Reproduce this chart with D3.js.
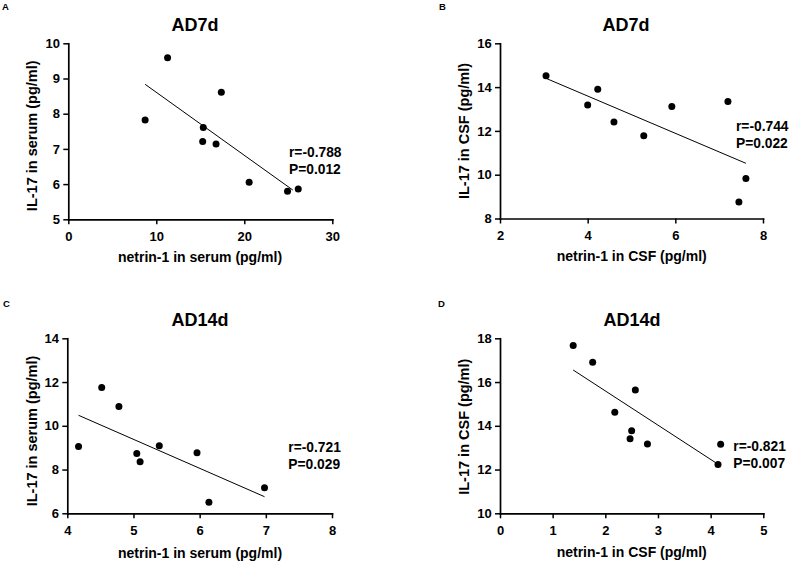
<!DOCTYPE html>
<html>
<head>
<meta charset="utf-8">
<script src="https://cdn.jsdelivr.net/npm/d3@7"></script>
<style>
  html, body { margin: 0; padding: 0; background: #fff; }
  svg text { font-family: "Liberation Sans", Arial, Helvetica, sans-serif; font-weight: bold; fill: #000; }
</style>
</head>
<body>
<svg id="chart" width="795" height="563"></svg>
<script>
// ---------- DATA ----------
const panelLetters = ["A", "B", "C", "D"];
const panelTitles = ["AD7d", "AD7d", "AD14d", "AD14d"];
const xTitles = ["netrin-1 in serum (pg/ml)", "netrin-1 in CSF (pg/ml)", "netrin-1 in serum (pg/ml)", "netrin-1 in CSF (pg/ml)"];
const yTitles = ["IL-17 in serum (pg/ml)", "IL-17 in CSF (pg/ml)", "IL-17 in serum (pg/ml)", "IL-17 in CSF (pg/ml)"];

const xTicksA = [0, 10, 20, 30];
const yTicksA = [5, 6, 7, 8, 9, 10];
const xTicksB = [2, 4, 6, 8];
const yTicksB = [8, 10, 12, 14, 16];
const xTicksC = [4, 5, 6, 7, 8];
const yTicksC = [6, 8, 10, 12, 14];
const xTicksD = [0, 1, 2, 3, 4, 5];
const yTicksD = [10, 12, 14, 16, 18];

// Panel A: AD7d serum
const netrinA = [8.73, 11.28, 17.39, 15.34, 15.27, 16.79, 20.55, 24.91, 26.13];
const il17A   = [7.82, 9.59, 8.61, 7.61, 7.21, 7.14, 6.05, 5.80, 5.86];
const fitXA = [8.73, 25.52];
const fitYA = [8.835, 5.83];

// Panel B: AD7d CSF
const netrinB = [3.05, 4.00, 4.23, 4.60, 5.28, 5.92, 7.20, 7.61, 7.45];
const il17B   = [14.52, 13.18, 13.90, 12.41, 11.78, 13.11, 13.34, 9.83, 8.75];
const fitXB = [3.05, 7.61];
const fitYB = [14.40, 10.52];

// Panel C: AD14d serum
const netrinC = [4.17, 4.52, 4.78, 5.05, 5.10, 5.39, 5.96, 6.14, 6.98];
const il17C   = [9.05, 11.75, 10.88, 8.73, 8.36, 9.09, 8.77, 6.50, 7.17];
const fitXC = [4.17, 6.98];
const fitYC = [10.48, 6.76];

// Panel D: AD14d CSF
const netrinD = [1.39, 1.76, 2.57, 2.18, 2.50, 2.47, 2.80, 4.19, 4.14];
const il17D   = [17.67, 16.91, 15.64, 14.62, 13.77, 13.41, 13.17, 13.16, 12.23];
const fitXD = [1.39, 4.13];
const fitYD = [16.55, 12.26];

const rValues = ["r=-0.788", "r=-0.744", "r=-0.721", "r=-0.821"];
const pValues = ["P=0.012", "P=0.022", "P=0.029", "P=0.007"];

// ---------- LAYOUT ----------
const panels = [
  { xs: netrinA, ys: il17A, fx: fitXA, fy: fitYA, xt: xTicksA, yt: yTicksA,
    box: { l: 68.3, r: 332.3, t: 43.3, b: 219.3 },
    letter: [2, 10], title: [195, 30.7], xTitle: [200, 262], yTitle: [31.7, 135.8], stat: [289, 156.7] },
  { xs: netrinB, ys: il17B, fx: fitXB, fy: fitYB, xt: xTicksB, yt: yTicksB,
    box: { l: 500, r: 763, t: 43.3, b: 218.5 },
    letter: [439, 10], title: [626, 30.7], xTitle: [631.7, 260.5], yTitle: [463.5, 131], stat: [736, 130.5] },
  { xs: netrinC, ys: il17C, fx: fitXC, fy: fitYC, xt: xTicksC, yt: yTicksC,
    box: { l: 67.3, r: 332, t: 338.3, b: 513.3 },
    letter: [3, 306.7], title: [200, 326], xTitle: [200, 557.5], yTitle: [31.7, 431], stat: [288.3, 451.5] },
  { xs: netrinD, ys: il17D, fx: fitXD, fy: fitYD, xt: xTicksD, yt: yTicksD,
    box: { l: 500, r: 763.3, t: 338.3, b: 513.3 },
    letter: [438, 307], title: [632, 326], xTitle: [631.7, 557], yTitle: [463.5, 426.7], stat: [733.3, 451] }
];

const svg = d3.select("#chart");

panels.forEach((p, i) => {
  const g = svg.append("g");
  const x = d3.scaleLinear()
    .domain(d3.extent(p.xt))
    .range([p.box.l, p.box.r]);
  const y = d3.scaleLinear()
    .domain(d3.extent(p.yt))
    .range([p.box.b, p.box.t]);

  // axes
  const xAxis = g.append("g")
    .attr("transform", `translate(0,${p.box.b})`)
    .call(d3.axisBottom(x).tickValues(p.xt).tickFormat(d3.format("d"))
      .tickSizeInner(5).tickSizeOuter(0).tickPadding(7));
  const yAxis = g.append("g")
    .attr("transform", `translate(${p.box.l},0)`)
    .call(d3.axisLeft(y).tickValues(p.yt).tickFormat(d3.format("d"))
      .tickSizeInner(5).tickSizeOuter(0).tickPadding(3.3));

  [xAxis, yAxis].forEach(a => {
    a.attr("font-family", null).attr("font-size", null);
    a.select(".domain").attr("stroke", "#000").attr("stroke-width", 1.7).attr("stroke-linecap", "square");
    a.selectAll(".tick line").attr("stroke", "#000").attr("stroke-width", 1.5);
    a.selectAll(".tick text").style("font-size", "13px");
  });

  // fit line
  g.append("line")
    .attr("x1", x(p.fx[0])).attr("y1", y(p.fy[0]))
    .attr("x2", x(p.fx[1])).attr("y2", y(p.fy[1]))
    .attr("stroke", "#000").attr("stroke-width", 1);

  // points
  g.selectAll("circle.pt")
    .data(p.xs.map((v, k) => [v, p.ys[k]]))
    .join("circle")
    .attr("class", "pt")
    .attr("cx", d => x(d[0]))
    .attr("cy", d => y(d[1]))
    .attr("r", 3.5)
    .attr("fill", "#000");

  // texts
  g.append("text")
    .attr("x", p.letter[0]).attr("y", p.letter[1])
    .style("font-size", "9.5px")
    .text(panelLetters[i]);

  g.append("text")
    .attr("x", p.title[0]).attr("y", p.title[1])
    .attr("text-anchor", "middle")
    .style("font-size", "18px")
    .text(panelTitles[i]);

  g.append("text")
    .attr("x", p.xTitle[0]).attr("y", p.xTitle[1])
    .attr("text-anchor", "middle")
    .style("font-size", "14px")
    .text(xTitles[i]);

  g.append("text")
    .attr("transform", `translate(${p.yTitle[0]},${p.yTitle[1]}) rotate(-90)`)
    .attr("text-anchor", "middle")
    .attr("dominant-baseline", "central")
    .style("font-size", "14.5px")
    .text(yTitles[i]);

  g.append("text")
    .attr("x", p.stat[0]).attr("y", p.stat[1])
    .style("font-size", "13.8px")
    .text(rValues[i]);
  g.append("text")
    .attr("x", p.stat[0]).attr("y", p.stat[1] + 17.4)
    .style("font-size", "13.8px")
    .text(pValues[i]);
});
</script>
</body>
</html>
